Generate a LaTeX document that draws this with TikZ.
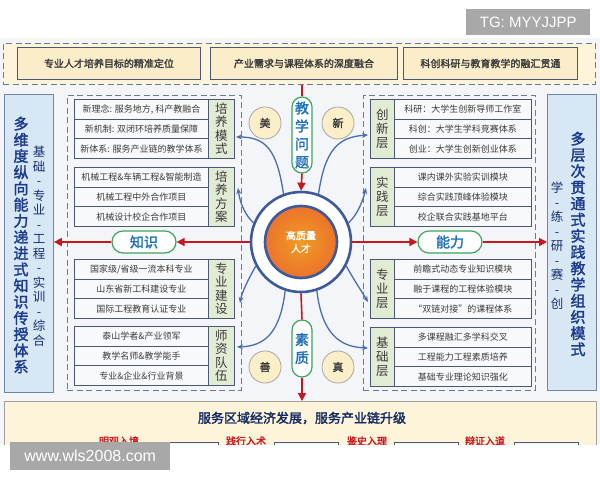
\documentclass[tikz,border=0pt]{standalone}
\usepackage{fontspec}
\setmainfont{Noto Sans CJK SC}[AutoFakeBold=2]
\newfontfamily\wmfont{Liberation Sans}
\usetikzlibrary{arrows.meta}
\definecolor{bgc}{HTML}{F3F5F8}
\definecolor{cream}{HTML}{FDF4DA}
\definecolor{creamb}{HTML}{FBEDC9}
\definecolor{bluebox}{HTML}{D8E7F4}
\definecolor{blueedge}{HTML}{6E86A6}
\definecolor{navy}{HTML}{1B3A8C}
\definecolor{rowedge}{HTML}{4B5874}
\definecolor{rowfill}{HTML}{F8F9FB}
\definecolor{lblfill}{HTML}{E2EBD3}
\definecolor{pillg}{HTML}{3DA55D}
\definecolor{pillt}{HTML}{1E70B8}
\definecolor{redc}{HTML}{C9151E}
\definecolor{curvec}{HTML}{4A6DB0}
\definecolor{ringc}{HTML}{3E5A9A}
\definecolor{orangec}{HTML}{EB7A2E}
\definecolor{txtc}{HTML}{3B3B3B}
\definecolor{dashc}{HTML}{6A7A96}
\definecolor{wmgrey}{HTML}{A8A8A8}
\definecolor{smallcf}{HTML}{FBEFC9}
\begin{document}
\begin{tikzpicture}[x=1pt,y=-1pt,
  zone/.style={draw=dashc,line width=0.9,dash pattern=on 6pt off 3.5pt,anchor=north west,inner sep=0},
  topbox/.style={draw=rowedge,line width=0.9,fill=creamb,anchor=north west,inner sep=0,minimum height=32,text=txtc,font=\bfseries\fontsize{10}{12}\selectfont},
  sidebox/.style={draw=blueedge,line width=0.9,fill=bluebox,anchor=north west,inner sep=0},
  bigcol/.style={align=center,text=navy,inner sep=0,font=\bfseries\fontsize{15}{16.2}\selectfont},
  smallcol/.style={align=center,text=navy!80!black,inner sep=0,font=\fontsize{12.5}{14.5}\selectfont},
  rowb/.style={draw=rowedge,line width=0.9,fill=rowfill,anchor=north west,inner sep=0,minimum height=19.7,text=txtc,font=\fontsize{9}{10}\selectfont},
  lblb/.style={draw=rowedge,line width=0.9,fill=lblfill,anchor=north west,inner sep=0,minimum height=59,align=center,text=txtc,font=\fontsize{12.5}{13.5}\selectfont},
  pill/.style={draw=pillg,line width=1.2,fill=white,inner sep=0,text=pillt,font=\bfseries\fontsize{14}{18}\selectfont,align=center},
  redl/.style={draw=redc,line width=1.6},
  redar/.style={draw=redc,line width=1.6,-{Triangle[length=8pt,width=8pt]}},
  bluear/.style={draw=curvec,line width=1.3,-{Stealth[length=6pt,width=5pt]}},
  smallc/.style={circle,draw=gray!70,line width=0.8,fill=smallcf,minimum size=32,inner sep=0,text=txtc,font=\bfseries\fontsize{11}{12}\selectfont}
]
\useasboundingbox (0,0) rectangle (600,480);
\fill[white] (0,0) rectangle (600,480);
\fill[bgc] (0,38) rectangle (600,444);

% top zone
\node[zone,fill=cream,minimum width=592,minimum height=41] (topzone) at (3,43) {};
\node[topbox,minimum width=183] (t1) at (17,47) {专业人才培养目标的精准定位};
\node[topbox,minimum width=187] (t2) at (210,47) {产业需求与课程体系的深度融合};
\node[topbox,minimum width=174] (t3) at (403,47) {科创科研与教育教学的融汇贯通};

% side boxes
\node[sidebox,minimum width=49,minimum height=298] (lbox) at (4,94) {};
\node[bigcol] (lbig) at (21,245) {多\\维\\度\\纵\\向\\能\\力\\递\\进\\式\\知\\识\\传\\授\\体\\系};
\node[smallcol] (lsmall) at (39,246) {基\\础\\-\\专\\业\\-\\工\\程\\-\\实\\训\\-\\综\\合};
\node[sidebox,minimum width=49,minimum height=296] (rbox) at (547,94) {};
\node[bigcol] (rbig) at (578,244) {多\\层\\次\\贯\\通\\式\\实\\践\\教\\学\\组\\织\\模\\式};
\node[smallcol] (rsmall) at (557,246) {学\\-\\练\\-\\研\\-\\赛\\-\\创};

% dashed zones
\node[zone,minimum width=174,minimum height=295] (lzone) at (67,95) {};
\node[zone,minimum width=172,minimum height=295] (rzone) at (363,95) {};

% left groups
\node[rowb,minimum width=134] (a1) at (74,99) {新理念: 服务地方, 科产教融合};
\node[rowb,minimum width=134] (a2) at (74,118.7) {新机制: 双闭环培养质量保障};
\node[rowb,minimum width=134] (a3) at (74,138.4) {新体系: 服务产业链的教学体系};
\node[lblb,minimum width=26] (al) at (208,99) {培\\养\\模\\式};

\node[rowb,minimum width=134] (b1) at (74,167) {机械工程\&车辆工程\&智能制造};
\node[rowb,minimum width=134] (b2) at (74,186.7) {机械工程中外合作项目};
\node[rowb,minimum width=134] (b3) at (74,206.4) {机械设计校企合作项目};
\node[lblb,minimum width=26] (bl) at (208,167) {培\\养\\方\\案};

\node[rowb,minimum width=134] (c1) at (74,259) {国家级/省级一流本科专业};
\node[rowb,minimum width=134] (c2) at (74,278.7) {山东省新工科建设专业};
\node[rowb,minimum width=134] (c3) at (74,298.4) {国际工程教育认证专业};
\node[lblb,minimum width=26] (cl) at (208,259) {专\\业\\建\\设};

\node[rowb,minimum width=134] (d1) at (74,326) {泰山学者\&产业领军};
\node[rowb,minimum width=134] (d2) at (74,345.7) {教学名师\&教学能手};
\node[rowb,minimum width=134] (d3) at (74,365.4) {专业\&企业\&行业背景};
\node[lblb,minimum width=26] (dl) at (208,326) {师\\资\\队\\伍};

% right groups
\node[lblb,minimum width=24,font=\fontsize{12.5}{14}\selectfont] (el) at (370,99) {创\\新\\层};
\node[rowb,minimum width=137] (e1) at (394,99) {科研：大学生创新导师工作室};
\node[rowb,minimum width=137] (e2) at (394,118.7) {科创：大学生学科竞赛体系};
\node[rowb,minimum width=137] (e3) at (394,138.4) {创业：大学生创新创业体系};

\node[lblb,minimum width=24,font=\fontsize{12.5}{14}\selectfont] (fl) at (370,167) {实\\践\\层};
\node[rowb,minimum width=137] (f1) at (394,167) {课内课外实验实训模块};
\node[rowb,minimum width=137] (f2) at (394,186.7) {综合实践顶峰体验模块};
\node[rowb,minimum width=137] (f3) at (394,206.4) {校企联合实践基地平台};

\node[lblb,minimum width=24,font=\fontsize{12.5}{14}\selectfont] (gl) at (370,259) {专\\业\\层};
\node[rowb,minimum width=137] (g1) at (394,259) {前瞻式动态专业知识模块};
\node[rowb,minimum width=137] (g2) at (394,278.7) {融于课程的工程体验模块};
\node[rowb,minimum width=137] (g3) at (394,298.4) {“双链对接”的课程体系};

\node[lblb,minimum width=24,font=\fontsize{12.5}{14}\selectfont] (hl) at (370,327) {基\\础\\层};
\node[rowb,minimum width=137] (h1) at (394,327) {多课程融汇多学科交叉};
\node[rowb,minimum width=137] (h2) at (394,346.7) {工程能力工程素质培养};
\node[rowb,minimum width=137] (h3) at (394,366.4) {基础专业理论知识强化};

% bottom box
\node[draw=gray!75,line width=0.9,fill=cream,anchor=north west,minimum width=592,minimum height=60,inner sep=0] (botbox) at (4,401) {};
\node[text=navy!70!black,font=\bfseries\fontsize{13}{15}\selectfont,inner sep=0] (bt) at (302,418) {服务区域经济发展，服务产业链升级};
\node[draw=rowedge,fill=rowfill,anchor=north west,minimum width=67,minimum height=20,inner sep=0] (s1) at (23,442) {};
\node[draw=rowedge,fill=rowfill,anchor=north west,minimum width=69,minimum height=20,inner sep=0] (s2) at (149,442) {};
\node[draw=rowedge,fill=rowfill,anchor=north west,minimum width=64,minimum height=20,inner sep=0] (s3) at (274,442) {};
\node[draw=rowedge,fill=rowfill,anchor=north west,minimum width=64,minimum height=20,inner sep=0] (s4) at (394,442) {};
\node[draw=rowedge,fill=rowfill,anchor=north west,minimum width=64,minimum height=20,inner sep=0] (s5) at (514,442) {};
\node[text=redc,font=\bfseries\fontsize{10}{12}\selectfont,inner sep=0] (r1) at (119,441) {明观入境};
\node[text=redc,font=\bfseries\fontsize{10}{12}\selectfont,inner sep=0] (r2) at (246,441) {践行入术};
\node[text=redc,font=\bfseries\fontsize{10}{12}\selectfont,inner sep=0] (r3) at (367,441) {鉴史入理};
\node[text=redc,font=\bfseries\fontsize{10}{12}\selectfont,inner sep=0] (r4) at (485,441) {辩证入道};

% centre
\node[circle,draw=ringc,line width=2.6,fill=white,minimum size=100,inner sep=0] (ring) at (301,242) {};
\node[circle,draw=ringc,line width=2.6,inner color=orangec!75!yellow,outer color=orangec!95!red,minimum size=72,inner sep=0,align=center,text=white,font=\bfseries\fontsize{10}{13}\selectfont] (core) at (301,242) {高质量\\人才};
\node[smallc] (mei) at (265,123) {美};
\node[smallc] (xin) at (338,123) {新};
\node[smallc] (shan) at (265,367) {善};
\node[smallc] (zhen) at (338,367) {真};

\node[pill,minimum width=20,minimum height=76,rounded corners=10] (jx) at (302,135) {教\\学\\问\\题};
\node[pill,minimum width=20,minimum height=57,rounded corners=10] (sz) at (302,348.5) {素\\质};
\node[pill,minimum width=64,minimum height=22,rounded corners=11] (zs) at (144,242) {知识};
\node[pill,minimum width=64,minimum height=22,rounded corners=11] (nl) at (450,242) {能力};

% red connectors
\draw[redl] (jx.north |- topzone.south) -- (jx.north);
\draw[redar] (jx.south) -- (ring.north);
\draw[redl] (ring.south) -- (sz.north);
\draw[redar] (sz.south) -- (sz.south |- botbox.north);
\draw[redar] (ring.west) -- (zs.east);
\draw[redar] (zs.west) -- (zs.west -| lbox.east);
\draw[redar] (ring.east) -- (nl.west);
\draw[redar] (nl.east) -- (nl.east -| rbox.west);

% blue curves
\coordinate (tA) at (236,137);
\coordinate (tB) at (238,188);
\coordinate (tC) at (240,303);
\coordinate (tD) at (237,347);
\coordinate (tE) at (368,135);
\coordinate (tF) at (366,188);
\coordinate (tG) at (368,302);
\coordinate (tH) at (368,348);
\draw[bluear] (ring.110) .. controls (277,150) and (266,137) .. (tA);
\draw[bluear] (ring.158) .. controls (246,216) and (240,204) .. (tB);
\draw[bluear] (ring.208) .. controls (248,280) and (242,292) .. (tC);
\draw[bluear] (ring.252) .. controls (280,334) and (264,346) .. (tD);
\draw[bluear] (ring.70) .. controls (325,150) and (338,137) .. (tE);
\draw[bluear] (ring.22) .. controls (356,216) and (362,204) .. (tF);
\draw[bluear] (ring.-28) .. controls (354,280) and (362,292) .. (tG);
\draw[bluear] (ring.-72) .. controls (322,334) and (340,347) .. (tH);

% cut-off of the lower edge and watermarks
\fill[white] (0,445) rectangle (600,480);
\node[fill=wmgrey,anchor=north west,minimum width=124,minimum height=26,inner sep=0,text=white,font=\wmfont\fontsize{15}{17}\selectfont] (wm1) at (466,9) {TG: MYYJJPP};
\node[fill=wmgrey,anchor=north west,minimum width=160,minimum height=28,inner sep=0,text=white,font=\wmfont\fontsize{16}{18}\selectfont] (wm2) at (10,442) {www.wls2008.com};
\end{tikzpicture}
\end{document}
